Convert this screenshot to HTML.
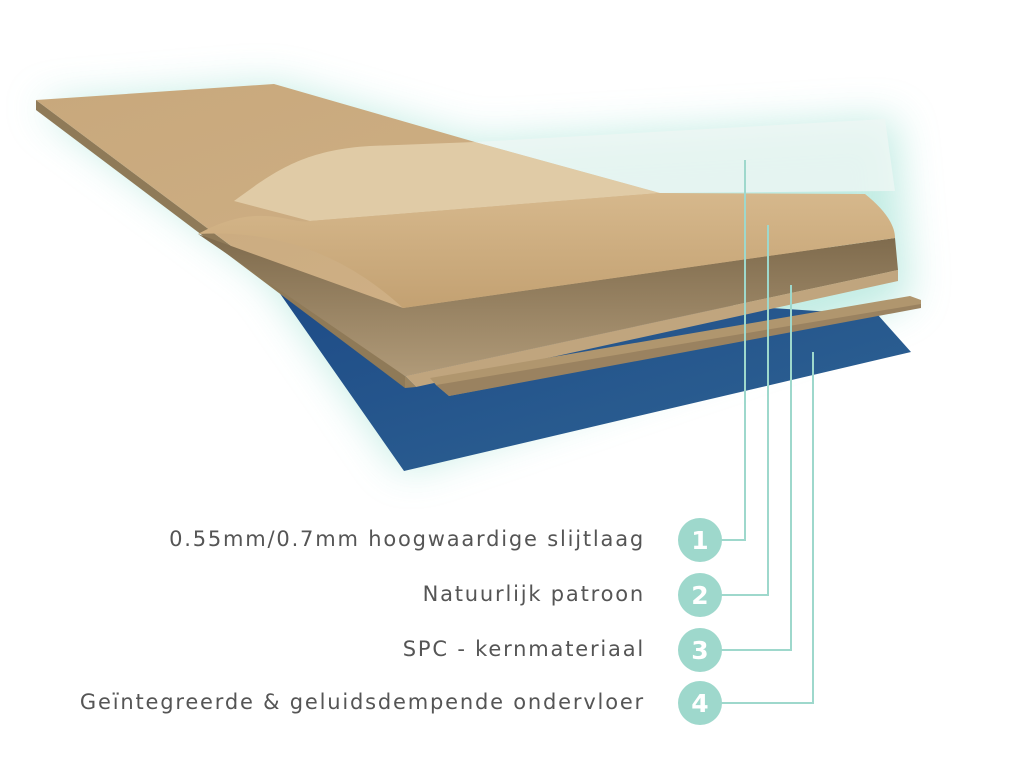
<!DOCTYPE html>
<html><head><meta charset="utf-8"><style>
html,body{margin:0;padding:0;background:#fff;}
body{width:1024px;height:764px;position:relative;overflow:hidden;font-family:"DejaVu Sans",sans-serif;}
.lbl{position:absolute;right:379px;font-size:21px;color:#555;white-space:nowrap;letter-spacing:1.8px;}
</style></head><body>
<svg width="1024" height="764" style="position:absolute;left:0;top:0">
<defs>
<filter id="g" x="-30%" y="-30%" width="160%" height="160%"><feGaussianBlur stdDeviation="20"/></filter>
<linearGradient id="blue" x1="0" y1="0" x2="1" y2="1"><stop offset="0" stop-color="#1d4a86"/><stop offset="1" stop-color="#2f6494"/></linearGradient>
<linearGradient id="core" x1="0" y1="0" x2="0" y2="1"><stop offset="0" stop-color="#7e6a4c"/><stop offset="1" stop-color="#b09a78"/></linearGradient>
<linearGradient id="oak" x1="0" y1="0" x2="1" y2="1"><stop offset="0" stop-color="#c8a87c"/><stop offset="1" stop-color="#d2b48a"/></linearGradient>
<linearGradient id="peel" x1="0" y1="0" x2="0" y2="1"><stop offset="0" stop-color="#d6b88c"/><stop offset="1" stop-color="#c3a172"/></linearGradient>
</defs>
<g filter="url(#g)" opacity="0.7">
<polygon points="36,104 274,85 475,142 895,119 910,300 404,471 267,275" fill="#a8e4d8"/>
</g>
<polygon points="267,275 878,315 911,352 404,471" fill="url(#blue)"/>
<polygon points="36,100 405,376 405,388 36,110" fill="#8f7a58"/>
<polygon points="36,100 274,84 475,142 660,193 898,270 405,376" fill="url(#oak)"/>
<polygon points="198,234 403,308 895,238 898,270 405,376" fill="url(#core)"/>
<polygon points="405,376 898,270 898,281 416,387" fill="#c0a57e"/>
<polygon points="405,376 416,387 405,388" fill="#9c8560"/>
<polygon points="430,378 910,296 921,300 921,306 449,396 436,385" fill="#b0966e"/>
<polygon points="436,385 921,304 921,308 449,396" fill="#9a8260"/>
<path d="M234,201 C270,175 300,150 370,146 L475,142 L660,193 L310,221 Z" fill="#e0cba6"/>
<path d="M198,234 C260,200 290,225 310,221 L660,193 L865,194 C885,210 895,225 895,238 L403,308 C340,250 270,230 198,234 Z" fill="url(#peel)"/>
<polygon points="475,142 660,193 895,191 885,119" fill="#eef6f4" opacity="0.8"/>
<g stroke="#9ed8cc" stroke-width="2" fill="none">
<polyline points="745,160 745,540 720,540"/>
<polyline points="768,225 768,595 720,595"/>
<polyline points="791,285 791,650 720,650"/>
<polyline points="813,352 813,703 720,703"/>
</g>
<g fill="#9ed8cc">
<circle cx="700" cy="540" r="22"/><circle cx="700" cy="595" r="22"/>
<circle cx="700" cy="650" r="22"/><circle cx="700" cy="703" r="22"/>
</g>
<g fill="#fff" font-family="DejaVu Sans, sans-serif" font-weight="bold" font-size="25" text-anchor="middle">
<text x="700" y="549">1</text><text x="700" y="604">2</text><text x="700" y="659">3</text><text x="700" y="712">4</text>
</g>
</svg>
<div class="lbl" style="top:527px">0.55mm/0.7mm hoogwaardige slijtlaag</div>
<div class="lbl" style="top:582px">Natuurlijk patroon</div>
<div class="lbl" style="top:637px">SPC - kernmateriaal</div>
<div class="lbl" style="top:690px">Geïntegreerde &amp; geluidsdempende ondervloer</div>
</body></html>
